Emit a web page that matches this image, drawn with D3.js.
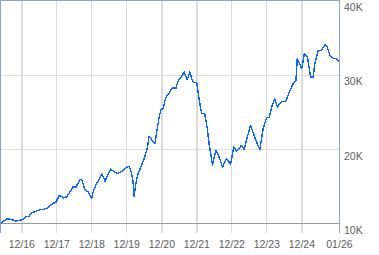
<!DOCTYPE html>
<html>
<head>
<meta charset="utf-8">
<script src="https://cdn.jsdelivr.net/npm/d3@7"></script>
<style>
  html, body { margin: 0; padding: 0; background: #fff; }
  svg { display: block; }
</style>
</head>
<body>
<div id="chart"></div>
<script>
const dates = [
  "2016-06-03","2016-06-19","2016-07-30","2016-09-21","2016-11-06","2016-11-29",
  "2017-01-05","2017-02-18","2017-03-23","2017-04-17","2017-06-09","2017-07-20",
  "2017-08-17","2017-09-21","2017-10-26","2017-11-29","2017-12-28",
  "2018-02-01","2018-02-18","2018-03-19","2018-04-17","2018-05-21","2018-06-25",
  "2018-07-23","2018-09-04","2018-09-25","2018-10-26","2018-11-29",
  "2019-01-05","2019-01-21","2019-02-25","2019-03-30","2019-04-18","2019-05-04",
  "2019-05-25","2019-06-26","2019-07-23","2019-09-05","2019-10-08","2019-11-13","2019-12-17",
  "2020-02-01","2020-02-26","2020-03-12","2020-03-22","2020-04-10","2020-05-04",
  "2020-06-09","2020-07-13","2020-08-06","2020-08-27","2020-09-21","2020-10-26",
  "2020-11-19","2020-12-10","2020-12-28",
  "2021-01-21","2021-02-08","2021-02-25","2021-03-23","2021-04-17","2021-05-04",
  "2021-06-01","2021-06-25","2021-08-01","2021-08-27","2021-09-27","2021-10-26",
  "2021-11-13","2021-11-29",
  "2022-01-05","2022-02-01","2022-02-26","2022-03-29","2022-04-23","2022-05-14",
  "2022-06-19","2022-07-23","2022-08-16","2022-10-02","2022-11-13","2022-12-24",
  "2023-01-28","2023-02-26","2023-04-17","2023-05-14","2023-07-20","2023-09-14",
  "2023-10-26","2023-11-29",
  "2024-01-05","2024-02-01","2024-02-26","2024-03-29","2024-04-28","2024-06-09",
  "2024-07-23","2024-09-04","2024-10-08","2024-11-06","2024-11-19","2024-12-07",
  "2025-01-05","2025-02-01","2025-03-06","2025-04-07","2025-05-04","2025-05-21",
  "2025-06-25","2025-08-01","2025-09-04","2025-09-21","2025-10-26","2025-11-29",
  "2026-01-05","2026-01-28"
];
const values = [
  10000,10190,10630,10550,10320,10420,
  10460,10900,10990,11440,11670,11890,
  11890,12030,12380,12700,12870,
  13770,13680,13450,13590,14180,14930,
  14850,15920,15830,14580,14260,
  13410,14260,15390,16060,16630,16370,
  15690,16630,17310,16860,16730,17000,17400,
  17710,16730,15600,13680,15390,16730,
  17840,18960,20090,21740,21300,20760,
  22770,24330,25360,
  25460,26570,27110,27470,28140,28280,
  28140,29170,29800,30370,29350,30370,
  29490,29030,
  28950,26570,24790,24790,22990,20760,
  17840,19860,19320,17620,18740,17980,
  20300,19720,20530,19950,23220,21200,
  19950,22770,
  24250,24250,25670,26800,25670,26440,
  26440,27920,28820,29260,32170,31720,
  30830,32840,32390,29700,29700,31500,
  33290,33290,34090,33960,32620,32170,
  32170,31720
];
const xTickDates = ["2017-01-01","2018-01-01","2019-01-01","2020-01-01","2021-01-01",
                    "2022-01-01","2023-01-01","2024-01-01","2025-01-01","2026-01-28"];
const xTickLabels = ["12/16","12/17","12/18","12/19","12/20","12/21","12/22","12/23","12/24","01/26"];
const yTicks = [10000, 20000, 30000, 40000];
const yTickLabels = ["10K","20K","30K","40K"];

const W = 379, H = 255;
const parse = d3.timeParse("%Y-%m-%d");
const data = dates.map((d, i) => ({ date: parse(d), value: values[i] }));

const x = d3.scaleTime()
  .domain([parse("2016-06-03"), parse("2026-02-03")])
  .range([1, 339.5]);
const y = d3.scaleLinear().domain([10000, 40000]).range([223.5, 0.5]);

const plotBottom = 233;
const svg = d3.select("#chart").append("svg").attr("width", W).attr("height", H);

// vertical gridlines (year ends)
const gridDates = xTickDates.slice(0, 9).map(parse);
svg.append("g")
  .attr("transform", `translate(0,${plotBottom})`)
  .call(d3.axisBottom(x).tickValues(gridDates).tickSize(-plotBottom).tickFormat(""))
  .call(g => g.select(".domain").remove())
  .call(g => g.selectAll("line").attr("stroke", "#dcdcdc").attr("stroke-width", 1.4)
        .attr("shape-rendering", "crispEdges"));

// horizontal gridlines
svg.append("g")
  .call(d3.axisLeft(y).tickValues(yTicks.slice(1, 3)).tickSize(-339.5).tickFormat(""))
  .call(g => g.select(".domain").remove())
  .call(g => g.selectAll("line").attr("stroke", "#dcdcdc").attr("stroke-width", 1.4)
        .attr("shape-rendering", "crispEdges"));

// 10K baseline
svg.append("line")
  .attr("x1", 1).attr("x2", 339.5)
  .attr("y1", y(10000)).attr("y2", y(10000))
  .attr("stroke", "#9a9a9a").attr("stroke-width", 1.2)
  .attr("shape-rendering", "crispEdges");

// frame (left, top, right)
svg.append("path")
  .attr("d", `M0.5,${plotBottom} V0.5 H339.5 V${plotBottom}`)
  .attr("fill", "none").attr("stroke", "#8fa3c1").attr("stroke-width", 1.4)
  .attr("shape-rendering", "crispEdges");

// line
const line = d3.line().x(d => x(d.date)).y(d => y(d.value));
svg.append("path")
  .datum(data)
  .attr("d", line)
  .attr("fill", "none")
  .attr("stroke", "#0d66ff")
  .attr("stroke-width", 1.4)
  .attr("stroke-linejoin", "round")
  .attr("shape-rendering", "crispEdges");

// x labels
const xAxis = d3.axisBottom(x)
  .tickValues(xTickDates.map(parse))
  .tickSize(0).tickPadding(0)
  .tickFormat((d, i) => xTickLabels[i]);
svg.append("g")
  .attr("transform", `translate(0,${plotBottom})`)
  .call(xAxis)
  .call(g => g.select(".domain").remove())
  .call(g => g.selectAll("text")
    .attr("y", 14.5).attr("dy", null)
    .attr("fill", "#5e5e5e")
    .style("font-family", "'Liberation Sans', Arial, sans-serif")
    .style("font-size", "10.5px"));

// y labels
const yAxis = d3.axisRight(y)
  .tickValues(yTicks)
  .tickSize(0).tickPadding(0)
  .tickFormat((d, i) => yTickLabels[i]);
svg.append("g")
  .attr("transform", "translate(344,0)")
  .call(yAxis)
  .call(g => g.select(".domain").remove())
  .call(g => g.selectAll("text")
    .attr("x", 0).attr("dy", "10")
    .attr("fill", "#5e5e5e")
    .style("font-family", "'Liberation Sans', Arial, sans-serif")
    .style("font-size", "10.5px"));
</script>
</body>
</html>
